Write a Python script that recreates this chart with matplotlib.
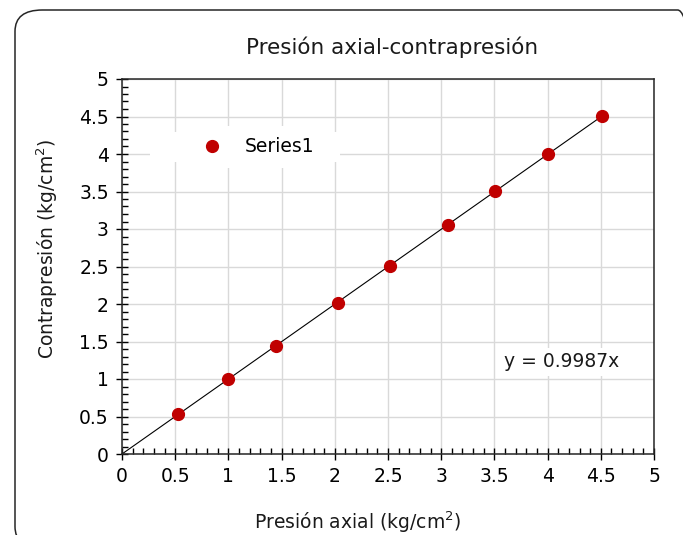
import matplotlib
matplotlib.use("Agg")
import matplotlib.pyplot as plt
from matplotlib.patches import FancyBboxPatch, Rectangle
from matplotlib.ticker import MultipleLocator
import numpy as np

presion_axial = [0.53, 1.00, 1.45, 2.03, 2.52, 3.06, 3.51, 4.00, 4.51]
contrapresion = [0.53, 1.00, 1.44, 2.02, 2.51, 3.05, 3.51, 4.00, 4.51]
slope = 0.9987
series_name = "Series1"
title = "Presión axial-contrapresión"
xlabel = "Presión axial (kg/cm$^2$)"
ylabel = "Contrapresión (kg/cm$^2$)"
tick_vals = [0, 0.5, 1, 1.5, 2, 2.5, 3, 3.5, 4, 4.5, 5]
tick_labels = ["0", "0.5", "1", "1.5", "2", "2.5", "3", "3.5", "4", "4.5", "5"]

plt.rcParams['font.family'] = ['DejaVu Sans']
plt.rcParams['mathtext.default'] = 'regular'

fig = plt.figure(figsize=(6.83, 5.35), dpi=100)
W, H = 683, 535
# outer rounded border (clipped by canvas)
border = FancyBboxPatch((15 / W, (H - 548) / H), 690 / W, 538 / H,
                        boxstyle="round,pad=0,rounding_size=0.04",
                        transform=fig.transFigure, facecolor='none',
                        edgecolor='#262626', linewidth=1.1, zorder=10)
fig.patches.append(border)

ax = fig.add_axes([122 / W, (H - 454) / H, 532 / W, 375 / H])
ax.set_xlim(0, 5)
ax.set_ylim(0, 5)

ax.grid(True, which='major', color='#d9d9d9', linewidth=1.0, zorder=0)
ax.set_axisbelow(True)

xs = np.array([0, presion_axial[-1]])
ax.plot(xs, slope * xs, color='black', linewidth=0.8, zorder=2)
ax.plot(presion_axial, contrapresion, linestyle='none', marker='o',
        markersize=8.5, color='#c00000', label=series_name, zorder=3)

ax.set_xticks(tick_vals)
ax.set_xticklabels(tick_labels)
ax.set_yticks(tick_vals)
ax.set_yticklabels(tick_labels)
ax.xaxis.set_minor_locator(MultipleLocator(0.1))
ax.yaxis.set_minor_locator(MultipleLocator(0.1))
ax.tick_params(which='major', direction='inout', length=9, width=1,
               labelsize=13.5, colors='black', pad=5)
ax.tick_params(which='minor', direction='in', length=4, width=1)
ax.tick_params(axis='x', which='major', pad=5)
for s in ax.spines.values():
    s.set_color('#262626')
    s.set_linewidth(1.1)

ax.set_title(title, fontsize=15.5, pad=18, color='#1a1a1a', x=0.5075)
ax.set_xlabel(xlabel, fontsize=13.5, labelpad=17, color='#1a1a1a')
ax.xaxis.label.set_x(0.442)
ax.set_ylabel(ylabel, fontsize=13.5, labelpad=14, color='#1a1a1a')
ax.yaxis.label.set_y(0.547)

# white legend area (wider than the legend's own frame)
ax.add_patch(Rectangle((0.053, 0.779), 0.357, 0.08, transform=ax.transAxes,
                       facecolor='white', edgecolor='none', zorder=1.5))

leg = ax.legend(loc='center left', bbox_to_anchor=(0.113, 0.819), frameon=True,
                fancybox=False, edgecolor='white', framealpha=1,
                fontsize=13.5, handlelength=2.0, handletextpad=0.76,
                borderpad=0.6, borderaxespad=0)
leg.get_frame().set_linewidth(0)

ax.text(4.135, 1.227, "y = 0.9987x", fontsize=13.5, ha='center', va='center',
        color='#1a1a1a',
        bbox=dict(facecolor='white', edgecolor='none', pad=3), zorder=4)

fig.savefig("out.png", dpi=100)
